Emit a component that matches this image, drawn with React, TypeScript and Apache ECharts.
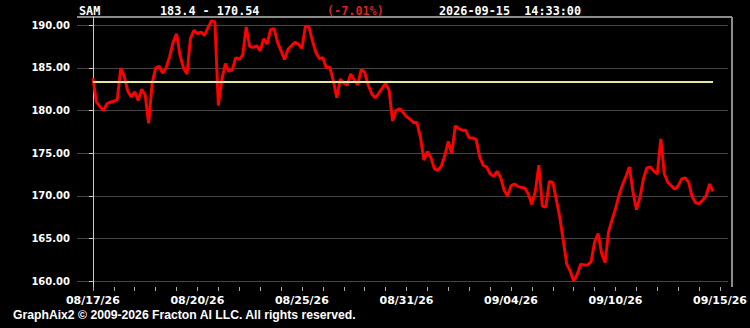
import React, { useEffect, useRef } from "react";
import * as echarts from "echarts";

const symbol = "SAM";
const openPrice = 183.4;
const lastPrice = 170.54;
const changePct = "(-7.01%)";
const stamp = "2026-09-15  14:33:00";
const footer = "GraphAix2 \u00A9 2009-2026 Fracton AI LLC. All rights reserved.";

const prices = [
  183.8, 181.0, 180.5, 180.0, 180.8, 181.0, 181.1, 181.3, 185.0, 184.0,
  182.3, 181.6, 182.2, 181.2, 182.5, 181.8, 178.5, 183.2, 185.0, 185.2,
  184.4, 185.0, 186.3, 188.0, 189.0, 186.5, 185.0, 184.3, 188.5, 189.4,
  189.0, 189.2, 188.8, 189.7, 190.5, 190.4, 180.6, 183.6, 185.5, 184.6,
  184.8, 186.2, 186.0, 186.5, 189.8, 187.5, 187.4, 187.6, 187.0, 188.4,
  187.8, 189.5, 189.6, 188.0, 187.0, 186.0, 187.2, 187.6, 188.0, 187.8,
  187.3, 189.9, 189.8, 188.2, 186.8, 186.1, 186.2, 185.0, 185.1, 183.5,
  181.5, 183.7, 183.2, 183.0, 184.3, 183.6, 183.0, 184.8, 184.5, 183.0,
  182.0, 181.5, 182.0, 182.6, 183.2, 182.4, 178.8, 180.0, 180.2, 179.8,
  179.3, 179.0, 178.6, 178.6, 176.9, 174.2, 175.2, 174.5, 173.2, 173.0,
  173.5, 174.7, 176.4, 175.0, 178.2, 177.9, 177.7, 177.7, 176.8, 176.8,
  176.6, 174.6, 173.6, 173.4, 172.6, 172.3, 172.9, 172.2, 170.7, 170.0,
  171.2, 171.4, 171.1, 171.0, 170.9, 170.2, 169.0, 170.6, 173.6, 168.8,
  168.7, 171.7, 171.6, 169.6, 167.5, 164.8, 162.0, 161.2, 160.0, 160.8,
  162.0, 161.9, 161.9, 162.3, 164.6, 165.6, 163.3, 162.2, 165.8, 167.2,
  168.5, 170.1, 171.3, 172.3, 173.4, 170.5, 168.4, 169.8, 172.0, 173.3,
  173.4, 172.9, 172.6, 176.7, 172.6, 171.6, 171.2, 170.8, 171.2, 172.0,
  172.1, 171.6, 169.9, 169.2, 169.1, 169.5, 170.0, 171.4, 170.54,
];

const dateLabels = ["08/17/26", "08/20/26", "08/25/26", "08/31/26", "09/04/26", "09/10/26", "09/15/26"];
const barsPerTick = 6;
const ticksPerLabel = 5;
const yTicks = [160, 165, 170, 175, 180, 185, 190];

export default function App() {
  const ref = useRef<HTMLDivElement>(null);
  useEffect(() => {
    const chart = echarts.init(ref.current!, null, { renderer: "svg" });
    const labelIdx = dateLabels.map((_, i) => i * barsPerTick * ticksPerLabel);
    const tickIdx: number[] = [];
    for (let t = 0; t <= labelIdx[labelIdx.length - 1]; t += barsPerTick) tickIdx.push(t);
    const data = prices.map((p, i) => [i, p]);
    const mono = '"DejaVu Sans Mono", monospace';
    const option: any = {
      animation: false,
      backgroundColor: "#000000",
      grid: { left: 77, right: 18, top: 17, bottom: 41 },
      xAxis: {
        type: "value",
        min: -4.565,
        max: 182.31,
        axisLine: { show: false },
        axisTick: { show: true, customValues: tickIdx, length: 4, lineStyle: { color: "#aaaaaa", width: 1 } },
        axisLabel: {
          customValues: labelIdx,
          formatter: (v: number) => dateLabels[labelIdx.indexOf(Math.round(v))] ?? "",
          color: "#ffffff",
          fontFamily: "DejaVu Sans",
          fontWeight: "bold",
          fontSize: 11,
          margin: 8,
        },
        splitLine: { show: false },
      },
      yAxis: {
        type: "value",
        min: 159.33,
        max: 190.97,
        axisLine: { show: true, lineStyle: { color: "#cccccc", width: 1 } },
        axisTick: { show: true, customValues: yTicks, length: 4, lineStyle: { color: "#cccccc", width: 1 } },
        axisLabel: {
          customValues: yTicks,
          formatter: (v: number) => v.toFixed(2),
          color: "#ffffff",
          fontFamily: "DejaVu Sans",
          fontWeight: "bold",
          fontSize: 10,
          margin: 7,
        },
        splitLine: { show: true, lineStyle: { color: "#444444", width: 1 } },
      },
      series: [
        {
          type: "line",
          data,
          symbol: "none",
          showSymbol: false,
          lineStyle: { color: "#ff0000", width: 2.9 },
          markLine: {
            silent: true,
            symbol: ["none", "none"],
            label: { show: false },
            lineStyle: { color: "#e6e6a4", width: 2, type: "solid" },
            data: [[{ coord: [0, openPrice] }, { coord: [prices.length - 1, openPrice] }]],
          },
        },
      ],
      graphic: [
        { type: "line", shape: { x1: 77, y1: 17, x2: 732, y2: 17 }, style: { stroke: "#8c8c8c", lineWidth: 2 } },
        { type: "line", shape: { x1: 732, y1: 17, x2: 732, y2: 287 }, style: { stroke: "#8c8c8c", lineWidth: 2 } },
        { type: "text", x: 79, y: 11, style: { text: symbol, fill: "#ffffff", font: `bold 11.8px ${mono}`, verticalAlign: "middle", textVerticalAlign: "middle" } },
        { type: "text", x: 160, y: 11, style: { text: `${openPrice} - ${lastPrice}`, fill: "#ffffff", font: `bold 11.8px ${mono}`, verticalAlign: "middle", textVerticalAlign: "middle" } },
        { type: "text", x: 327, y: 11, style: { text: changePct, fill: "#d62424", font: `bold 11.8px ${mono}`, verticalAlign: "middle", textVerticalAlign: "middle" } },
        { type: "text", x: 439, y: 11, style: { text: stamp, fill: "#ffffff", font: `bold 11.8px ${mono}`, verticalAlign: "middle", textVerticalAlign: "middle" } },
        { type: "text", x: 13, y: 315, style: { text: footer, fill: "#ffffff", font: 'bold 12.2px "Liberation Sans", Arial, sans-serif', verticalAlign: "middle", textVerticalAlign: "middle" } },
      ],
    };
    chart.setOption(option);
    return () => chart.dispose();
  }, []);
  return (
    <div
      ref={ref}
      style={{ position: "fixed", left: 0, top: 0, width: 750, height: 328, background: "#000" }}
    />
  );
}
